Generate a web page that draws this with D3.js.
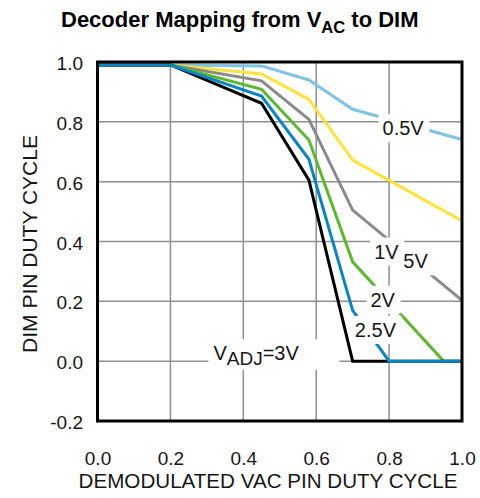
<!DOCTYPE html>
<html>
<head>
<meta charset="utf-8">
<script src="https://cdn.jsdelivr.net/npm/d3@7/dist/d3.min.js"></script>
<style>
  html, body { margin: 0; padding: 0; background: #fff; }
  svg { display: block; font-family: "Liberation Sans", Arial, Helvetica, sans-serif; }
</style>
</head>
<body>
<svg id="chart" width="480" height="498"></svg>
<script>
// Axis ticks
const xTicks = [0, 0.2, 0.4, 0.6, 0.8, 1.0];
const xTickLabels = ["0.0", "0.2", "0.4", "0.6", "0.8", "1.0"];
const yTicks = [-0.2, 0, 0.2, 0.4, 0.6, 0.8, 1.0];
const yTickLabels = ["-0.2", "0.0", "0.2", "0.4", "0.6", "0.8", "1.0"];

// Demodulated VAC duty cycle (x) -> DIM duty cycle (y), one curve per VADJ setting
const vac05 = [[0, 0.99], [0.2, 0.99], [0.45, 0.987], [0.58, 0.94], [0.7, 0.842], [1.0, 0.741]];
const vacYellow = [[0, 0.99], [0.2, 0.99], [0.45, 0.96], [0.58, 0.875], [0.7, 0.672], [1.0, 0.469]];
const vacGray = [[0, 0.99], [0.2, 0.99], [0.45, 0.937], [0.58, 0.808], [0.7, 0.505], [1.0, 0.203]];
const vac2 = [[0, 0.99], [0.2, 0.99], [0.45, 0.909], [0.58, 0.739], [0.7, 0.332], [0.95, 0], [1.0, 0]];
const vac3 = [[0, 0.99], [0.2, 0.99], [0.45, 0.862], [0.58, 0.605], [0.7, 0], [1.0, 0]];
const vac25 = [[0, 0.99], [0.2, 0.99], [0.45, 0.886], [0.58, 0.675], [0.7, 0.17], [0.8, 0], [1.0, 0]];

// drawing order, bottom to top
const series = [
  { values: vac05, color: "#7fc3e6" },
  { values: vacYellow, color: "#fde23a" },
  { values: vacGray, color: "#8a8a8a" },
  { values: vac2, color: "#5bb82f" },
  { values: vac3, color: "#000000" },
  { values: vac25, color: "#0a84c2" }
];

// Curve labels, anchored at text start / baseline in data units
const curveLabels = [
  { text: "0.5V", x: 0.782, y: 0.755 },
  { text: "1V", x: 0.759, y: 0.343 },
  { text: "5V", x: 0.839, y: 0.31 },
  { text: "2V", x: 0.749, y: 0.182 },
  { text: "2.5V", x: 0.706, y: 0.081 }
];
const adjLabel = { x: 0.318, y: 0.003 };

const svg = d3.select("#chart");
const plotL = 97.5, plotR = 462, plotT = 62, plotB = 421;
const ink = "#161616";

const x = d3.scaleLinear().domain([0, 1]).range([plotL, plotR]);
const y = d3.scaleLinear().domain([-0.2, 1]).range([plotB, plotT]);

// grid
const grid = svg.append("g").attr("stroke", "#8f8f8f").attr("stroke-width", 1.5);
grid.selectAll("line.vx").data(xTicks.slice(1, -1)).join("line")
  .attr("x1", d => x(d)).attr("x2", d => x(d))
  .attr("y1", plotT).attr("y2", plotB);
grid.selectAll("line.hy").data(yTicks.slice(1, -1)).join("line")
  .attr("x1", plotL).attr("x2", plotR)
  .attr("y1", d => y(d)).attr("y2", d => y(d));

// curves
const line = d3.line().x(d => x(d[0])).y(d => y(d[1]));
svg.append("g").selectAll("path").data(series).join("path")
  .attr("d", d => line(d.values))
  .attr("fill", "none")
  .attr("stroke", d => d.color)
  .attr("stroke-width", 3)
  .attr("stroke-linejoin", "miter");

// labels with white knock-out boxes
function boxed(g, padL, padR, padT, padB) {
  const b = g.node().getBBox();
  g.insert("rect", ":first-child")
    .attr("x", b.x - padL).attr("y", b.y - padT)
    .attr("width", b.width + padL + padR).attr("height", b.height + padT + padB)
    .attr("fill", "#fff");
}

curveLabels.forEach(l => {
  const g = svg.append("g");
  g.append("text")
    .attr("x", x(l.x)).attr("y", y(l.y))
    .attr("font-size", 20).attr("fill", ink)
    .text(l.text);
  boxed(g, 4, 5, 3, 3);
});

{
  const g = svg.append("g");
  const t = g.append("text")
    .attr("x", x(adjLabel.x)).attr("y", y(adjLabel.y))
    .attr("font-size", 20).attr("fill", ink);
  t.append("tspan").text("V");
  t.append("tspan").attr("font-size", 19).attr("dy", 4.5).text("ADJ");
  t.append("tspan").attr("dy", -4.5).text("=3V");
  boxed(g, 5, 40, 3, 1);
}

// frame
svg.append("rect")
  .attr("x", plotL).attr("y", plotT)
  .attr("width", plotR - plotL).attr("height", plotB - plotT)
  .attr("fill", "none").attr("stroke", "#000").attr("stroke-width", 3);

// axes (labels only)
const xAxis = d3.axisBottom(x).tickValues(xTicks)
  .tickFormat((d, i) => xTickLabels[i]).tickSize(0).tickPadding(30.5);
const gx = svg.append("g").attr("transform", `translate(0,${plotB})`).call(xAxis);
gx.select(".domain").remove();
gx.selectAll("text").attr("font-size", 19).attr("fill", ink);
gx.attr("font-family", null).attr("font-size", null);

const yAxis = d3.axisLeft(y).tickValues(yTicks)
  .tickFormat((d, i) => yTickLabels[i]).tickSize(0).tickPadding(14.5);
const gy = svg.append("g").attr("transform", `translate(${plotL},0)`).call(yAxis);
gy.select(".domain").remove();
gy.selectAll("text").attr("font-size", 19).attr("fill", ink).attr("dy", "0.4em");
gy.attr("font-family", null).attr("font-size", null);

// axis titles
svg.append("text")
  .attr("x", 268).attr("y", 488)
  .attr("text-anchor", "middle").attr("font-size", 20.6).attr("fill", ink)
  .text("DEMODULATED VAC PIN DUTY CYCLE");

svg.append("text")
  .attr("transform", `translate(36.5,${(plotT + plotB) / 2 + 2.5}) rotate(-90)`)
  .attr("text-anchor", "middle").attr("font-size", 21).attr("fill", ink)
  .text("DIM PIN DUTY CYCLE");

// title
{
  const t = svg.append("text")
    .attr("x", 61).attr("y", 26.7)
    .attr("font-size", 22).attr("font-weight", "bold").attr("fill", "#000");
  t.append("tspan").text("Decoder Mapping from V");
  t.append("tspan").attr("font-size", 16.5).attr("dy", 6).text("AC");
  t.append("tspan").attr("dy", -6).text(" to DIM");
}
</script>
</body>
</html>
